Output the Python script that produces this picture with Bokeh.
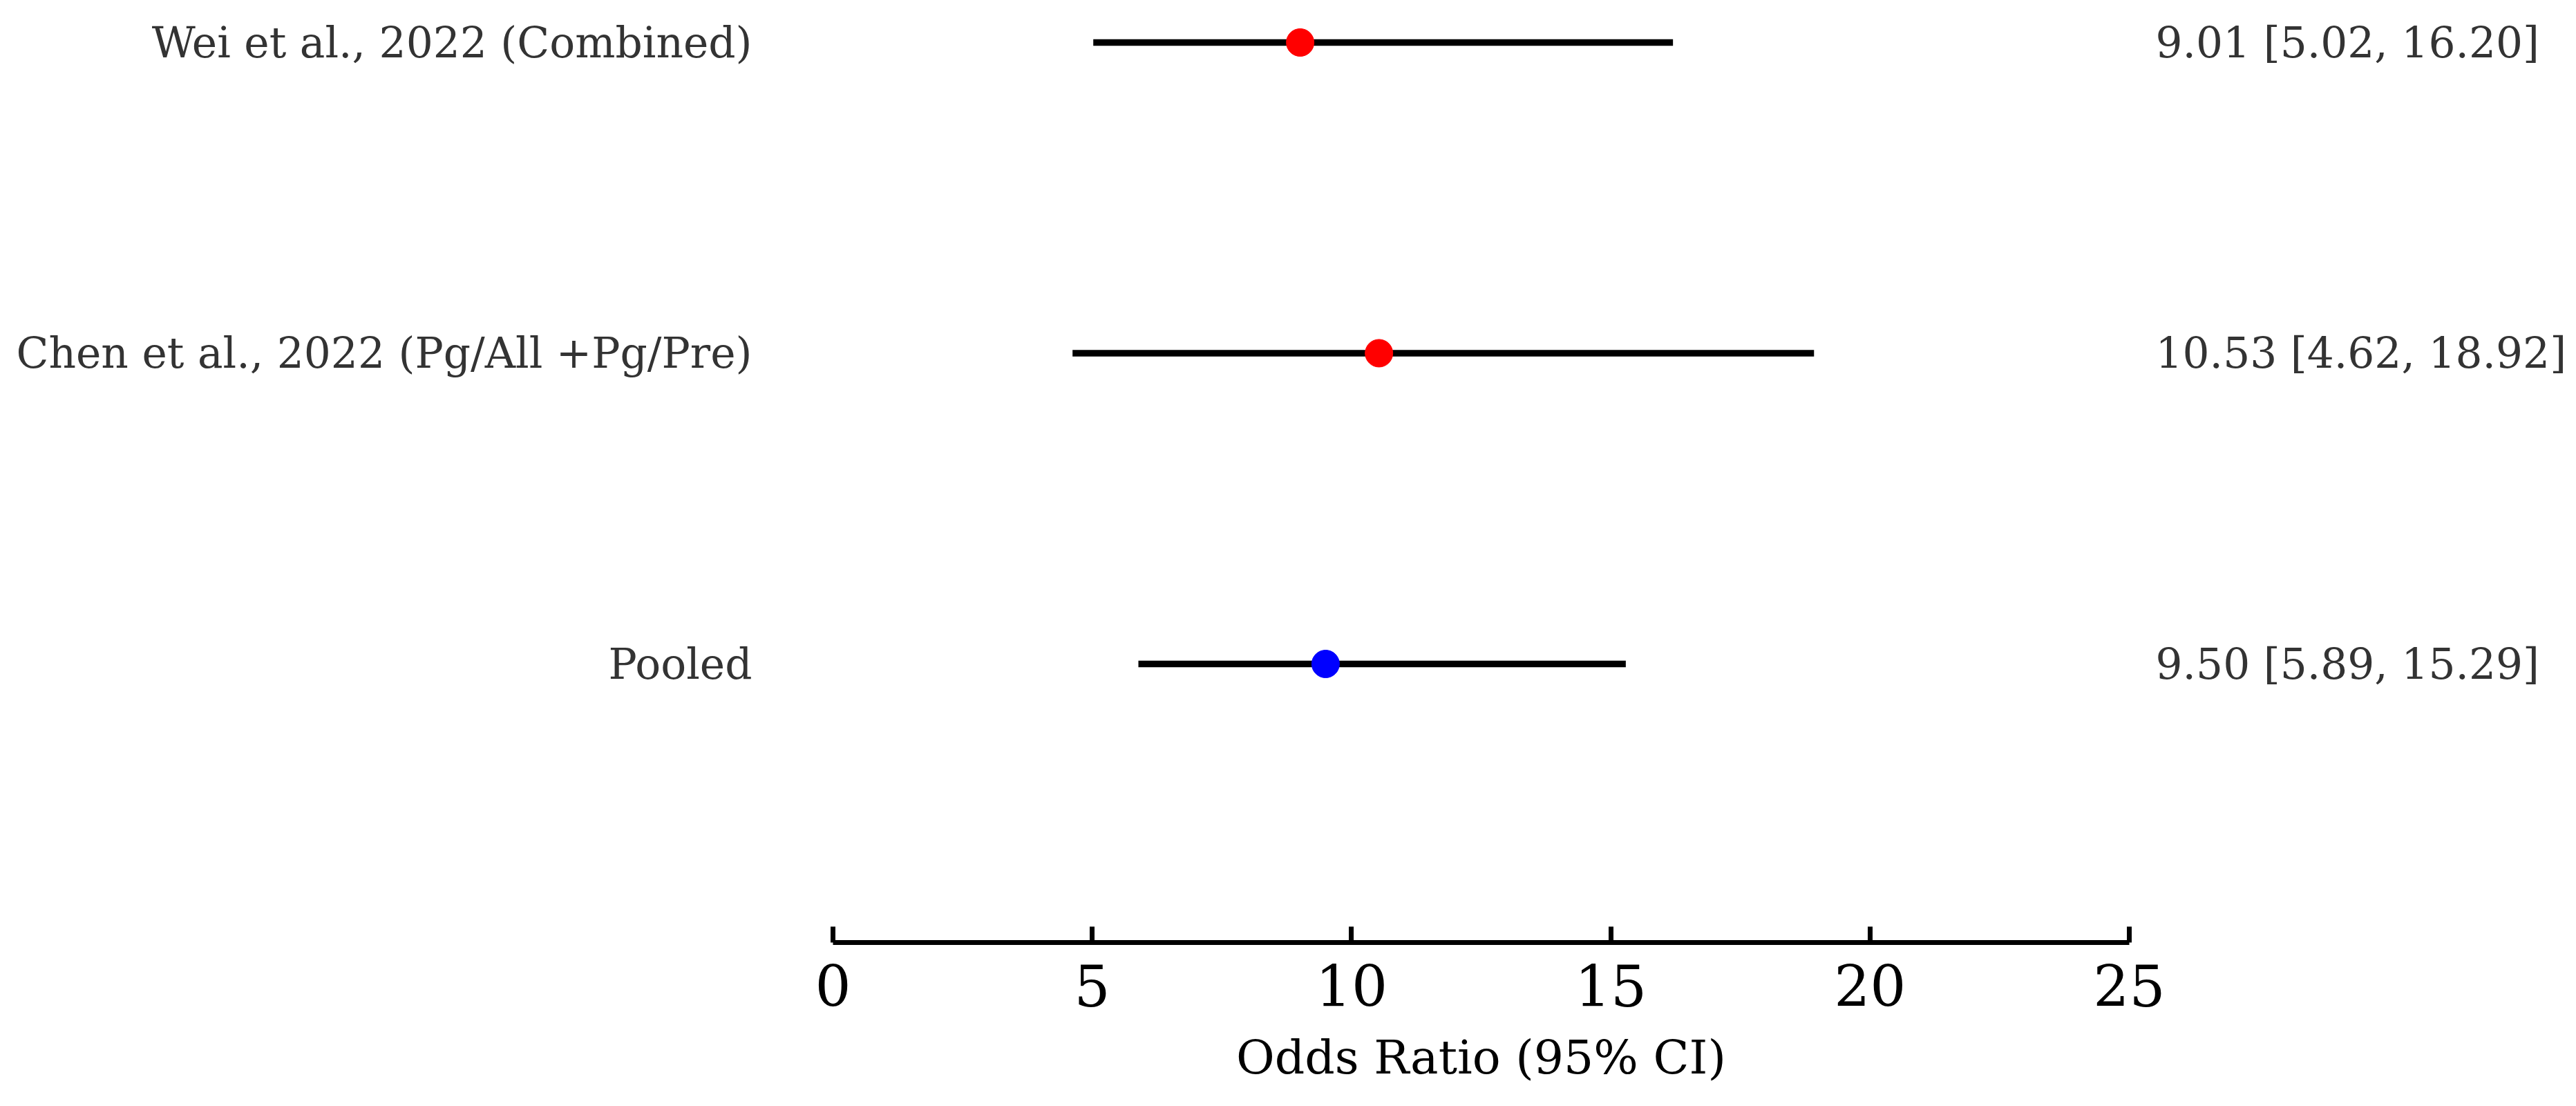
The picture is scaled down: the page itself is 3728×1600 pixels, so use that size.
from bokeh.plotting import figure
from bokeh.models import Range1d, FixedTicker, LinearAxis, ColumnDataSource
from bokeh.embed import file_html
from bokeh.resources import INLINE

# ---- data ----
studies = ["Wei et al., 2022 (Combined)", "Chen et al., 2022 (Pg/All +Pg/Pre)", "Pooled"]
odds_ratio = [9.01, 10.53, 9.50]
ci_lower = [5.02, 4.62, 5.89]
ci_upper = [16.20, 18.92, 15.29]
marker_colors = ["#ff0000", "#ff0000", "#0000ff"]
x_ticks = [0, 5, 10, 15, 20, 25]
x_label = "Odds Ratio (95% CI)"

n = len(studies)
y_pos = [n - 1 - i for i in range(n)]
ci_text = [f"{o:.2f} [{l:.2f}, {u:.2f}]" for o, l, u in zip(odds_ratio, ci_lower, ci_upper)]

source = ColumnDataSource(dict(y=y_pos, orr=odds_ratio, lo=ci_lower, hi=ci_upper, color=marker_colors))

FONT = "DejaVu Serif"

p = figure(frame_width=1876, frame_height=1356,
           x_range=Range1d(0, 25), y_range=Range1d(-0.8966, 2.1201),
           output_backend="svg", toolbar_location=None,
           min_border_left=1205, min_border_right=631,
           min_border_top=7, min_border_bottom=200)
p.outline_line_color = None
p.xgrid.visible = False
p.ygrid.visible = False
p.background_fill_color = "white"
p.border_fill_color = "white"

p.segment(x0="lo", y0="y", x1="hi", y1="y", source=source,
          line_color="black", line_width=9.5, line_cap="butt")
p.scatter(x="orr", y="y", source=source, size=40,
          fill_color="color", line_color="color", marker="circle")

# x axis
xa = p.xaxis[0]
xa.ticker = FixedTicker(ticks=x_ticks)
xa.axis_line_width = 7
xa.axis_line_color = "black"
xa.major_tick_line_width = 7
xa.major_tick_line_color = "black"
xa.major_tick_in = 23
xa.major_tick_out = 0
xa.minor_tick_line_color = None
xa.major_label_text_font = FONT
xa.major_label_text_font_size = "82px"
xa.major_label_text_color = "black"
xa.major_label_standoff = 32
xa.axis_label = x_label
xa.axis_label_text_font = FONT
xa.axis_label_text_font_size = "68px"
xa.axis_label_text_font_style = "normal"
xa.axis_label_text_color = "black"
xa.axis_label_standoff = 31

# left axis: study labels
ya = p.yaxis[0]
ya.ticker = FixedTicker(ticks=y_pos)
ya.major_label_overrides = {y: s for y, s in zip(y_pos, studies)}
ya.axis_line_color = None
ya.major_tick_line_color = None
ya.minor_tick_line_color = None
ya.major_tick_in = 0
ya.major_tick_out = 0
ya.major_label_standoff = 117
ya.major_label_text_font = FONT
ya.major_label_text_font_size = "61.4px"
ya.major_label_text_color = "#333333"

# right axis: CI text
ra = LinearAxis(ticker=FixedTicker(ticks=y_pos))
ra.major_label_overrides = {y: s for y, s in zip(y_pos, ci_text)}
ra.axis_line_color = None
ra.major_tick_line_color = None
ra.minor_tick_line_color = None
ra.major_tick_in = 0
ra.major_tick_out = 0
ra.major_label_standoff = 38
ra.major_label_text_font = FONT
ra.major_label_text_font_size = "61.4px"
ra.major_label_text_color = "#333333"
p.add_layout(ra, "right")

open("out.html", "w").write(file_html(p, INLINE))
